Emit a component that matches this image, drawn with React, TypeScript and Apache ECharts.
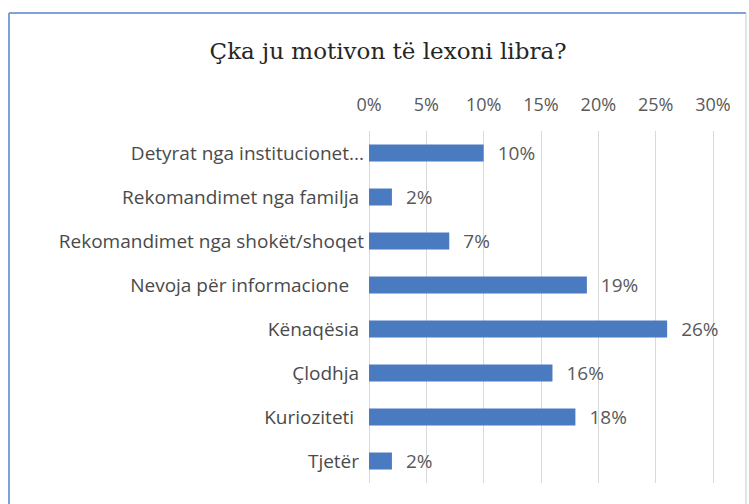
import React, { useEffect, useRef } from "react";
import * as echarts from "echarts";

const categories = [
  "Detyrat nga institucionet...",
  "Rekomandimet nga familja ",
  "Rekomandimet nga shokët/shoqet",
  "Nevoja për informacione   ",
  "Kënaqësia ",
  "Çlodhja ",
  "Kurioziteti  ",
  "Tjetër ",
];
const values = [10, 2, 7, 19, 26, 16, 18, 2];
const xTicks = [0, 5, 10, 15, 20, 25, 30];
const titleText = "Çka ju motivon të lexoni libra?";

export default function App() {
  const ref = useRef<HTMLDivElement>(null);
  useEffect(() => {
    if (!ref.current) return;
    const chart = echarts.init(ref.current, null, { renderer: "svg" });
    const font = "'Open Sans', Lato, sans-serif";
    chart.setOption({
      animation: false,
      backgroundColor: "#ffffff",
      grid: { left: 369, right: 36, top: 131, bottom: 21 },
      xAxis: {
        type: "value",
        position: "top",
        min: xTicks[0],
        max: xTicks[xTicks.length - 1],
        interval: 5,
        axisLine: { show: false },
        axisTick: { show: false },
        splitLine: { show: true, lineStyle: { color: "#d9d9d9", width: 1 } },
        axisLabel: {
          formatter: "{value}%",
          color: "#595959",
          fontFamily: font,
          fontSize: 18,
          margin: 18,
        },
      },
      yAxis: {
        type: "category",
        inverse: true,
        data: categories,
        axisLine: { show: false },
        axisTick: { show: false },
        axisLabel: {
          color: "#4a4a4a",
          fontFamily: font,
          fontSize: 19,
          margin: 5,
        },
      },
      series: [
        {
          type: "bar",
          data: values,
          barWidth: 17,
          itemStyle: { color: "#4A7BC0" },
          label: {
            show: true,
            position: "right",
            distance: 14,
            formatter: "{c}%",
            color: "#595959",
            fontFamily: font,
            fontSize: 19,
          },
        },
      ],
      graphic: [
        {
          type: "text",
          x: 388,
          y: 51,
          style: {
            text: titleText,
            fill: "#262626",
            font: "23px 'DejaVu Serif', 'Liberation Serif', serif",
            textAlign: "center",
            textVerticalAlign: "middle",
          },
        },
        {
          type: "line",
          shape: { x1: 9, y1: 13, x2: 746, y2: 13 },
          style: { stroke: "#7ea2d4", lineWidth: 2 },
        },
        {
          type: "line",
          shape: { x1: 9, y1: 13, x2: 9, y2: 504 },
          style: { stroke: "#7ea2d4", lineWidth: 2 },
        },
        {
          type: "line",
          shape: { x1: 746, y1: 13, x2: 746, y2: 504 },
          style: { stroke: "#c9c9c9", lineWidth: 1 },
        },
      ],
    });
    return () => chart.dispose();
  }, []);
  return (
    <div
      ref={ref}
      style={{ position: "absolute", left: 0, top: 0, width: 749, height: 504 }}
    />
  );
}
